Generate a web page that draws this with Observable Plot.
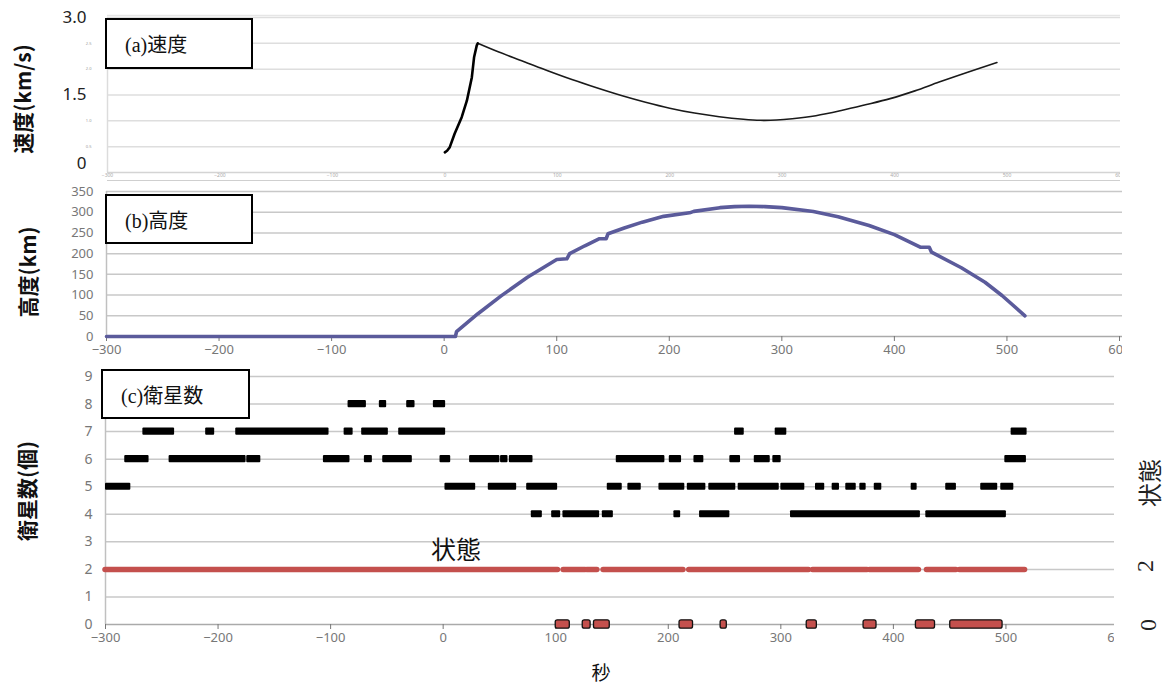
<!DOCTYPE html>
<html><head><meta charset="utf-8">
<script src="https://cdn.jsdelivr.net/npm/d3@7"></script>
<script src="https://cdn.jsdelivr.net/npm/@observablehq/plot@0.6"></script>
<style>
body{margin:0;background:#fff;}
#wrap{position:relative;width:1168px;height:686px;overflow:hidden;background:#fff;font-family:"Noto Sans","Noto Sans CJK JP",sans-serif;}
.panel{position:absolute;left:0;}
.box{position:absolute;border:2px solid #000;background:#fff;box-sizing:border-box;font-family:"Liberation Serif","Noto Sans CJK JP",serif;font-size:20px;padding-left:18px;display:flex;align-items:center;color:#111;}
.lab{position:absolute;transform:translate(-50%,-50%) rotate(-90deg);white-space:nowrap;color:#111;}
.ylab{font-family:"Noto Sans CJK JP",sans-serif;font-weight:bold;font-size:21px;}
.rlab{font-family:"Liberation Serif","Noto Sans CJK JP",serif;font-size:24px;color:#222;}
.txt{position:absolute;transform:translate(-50%,-50%);white-space:nowrap;font-family:"Liberation Serif","Noto Sans CJK JP",serif;color:#111;}
</style>
</head><body>
<div id="wrap">
  <div id="pa" class="panel" style="top:0"></div>
  <div id="pb" class="panel" style="top:182px"></div>
  <div id="pc" class="panel" style="top:365px"></div>
  <div class="box" style="left:105px;top:18px;width:148px;height:51px;">(a)速度</div>
  <div class="box" style="left:105px;top:194px;width:148px;height:50px;">(b)高度</div>
  <div class="box" style="left:101px;top:369px;width:149px;height:50px;">(c)衛星数</div>
  <div class="lab ylab" style="left:22px;top:99px;">速度(km/s)</div>
  <div class="lab ylab" style="left:27px;top:272px;">高度(km)</div>
  <div class="lab ylab" style="left:26px;top:491px;">衛星数(個)</div>
  <div class="lab rlab" style="left:1148px;top:483px;">状態</div>
  <div class="lab rlab" style="left:1145px;top:566px;">2</div>
  <div class="lab rlab" style="left:1148px;top:625px;">0</div>
  <div class="txt" style="left:456px;top:548px;font-size:25px;">状態</div>
  <div class="txt" style="left:601px;top:671px;font-size:19px;">秒</div>
</div>
<script>
// ---- data ----
const xTicks = [-300, -200, -100, 0, 100, 200, 300, 400, 500, 600];

// (a) speed km/s
const velT = [0, 2, 4.4, 8.7, 15, 19.6, 24, 26, 28.4, 29.3, 48, 70, 91.5, 113, 135, 157, 178.5, 200, 222, 244, 265.5, 280.6, 295, 309, 330, 352.6, 374, 396, 418, 439.6, 465, 491];
const velV = [0.39, 0.42, 0.49, 0.75, 1.07, 1.39, 1.84, 2.23, 2.46, 2.50, 2.33, 2.15, 1.97, 1.80, 1.64, 1.49, 1.36, 1.245, 1.15, 1.08, 1.03, 1.01, 1.015, 1.04, 1.10, 1.20, 1.31, 1.43, 1.58, 1.75, 1.94, 2.13];

// (b) altitude km
const altT = [-300, 10, 11, 30, 50.6, 74, 100, 109, 111.5, 125, 138, 143.9, 145.6, 160, 176, 195, 218, 221.8, 245, 258, 271, 285, 300, 328, 350, 377.5, 400, 423, 431, 433, 459.5, 480.5, 495.6, 516];
const altH = [0, 0, 12, 55, 98, 143, 186, 187.5, 200, 219, 236, 236, 248, 262, 276, 290, 298.5, 302, 311, 313.5, 314.5, 313.5, 311, 301.7, 289, 268, 246, 215.5, 215.5, 203.5, 166, 131, 99, 50];

// (c) satellites: [start, end] intervals per count
const sat8 = [[-84.5,-68.2],[-56.7,-50.2],[-32.4,-25],[-8.7,2.2]];
const sat7 = [[-266.8,-238.6],[-211,-203],[-184.3,-101.4],[-88,-80],[-72.4,-48.7],[-39.5,2.2],[258.9,267.5],[295,305.3],[504.6,518.8]];
const sat6 = [[-282.9,-261.3],[-243.5,-175.1],[-174.5,-162],[-106.4,-82.8],[-70,-62.9],[-53.7,-27.4],[-2.8,6.7],[23.5,50.4],[51,57.6],[58.8,79.8],[153.8,197],[200.9,211.8],[222.8,231.6],[254.7,264.2],[276.4,290.6],[292.9,300.3],[499,518.2]];
const sat5 = [[-300,-277.5],[1.6,28.9],[40.1,65.3],[74.2,101.7],[145.8,159.1],[164.1,176],[191.7,214.7],[216.9,233.4],[236,260],[262.1,298.6],[300,321.3],[330.8,339],[345.6,352.1],[357.7,367],[370.2,375.8],[383,389.7],[415.8,421.1],[446.5,456],[477.6,492.7],[495.4,507]];
const sat4 = [[78.3,88.1],[96.4,104.4],[106.4,139],[141.4,151.2],[205,211],[227.8,254.7],[308.6,424],[428.8,500.4]];

// (c) state: intervals with state 2 and state 0
const state2 = [[-300,102],[107,126.5],[128,137],[142.5,213.5],[218.6,325],[328.6,377],[379,422.7],[429.8,456],[459,517]];
const state0 = [[100,112.5],[124,131],[134,148],[210,222],[246.5,252],[323,332],[373.5,385],[420,437],[450.5,497]];

// ---- build ----
const vel = velT.map((t, i) => ({t, v: velV[i]}));
const alt = altT.map((t, i) => ({t, h: altH[i]}));
const sats = [[8, sat8], [7, sat7], [6, sat6], [5, sat5], [4, sat4]]
  .flatMap(([n, arr]) => arr.map(([a, b]) => ({x1: a, x2: b, n})));
const st2 = state2.map(([a, b]) => ({x1: a, x2: b, s: 2}));
const st0 = state0.map(([a, b]) => ({x1: a, x2: b, s: 0}));

const baseStyle = {fontFamily: "Noto Sans, sans-serif", background: "transparent", overflow: "hidden"};

const chartA = Plot.plot({
  width: 1120, height: 182, marginTop: 17, marginBottom: 10, marginLeft: 107, marginRight: 0,
  x: {domain: [-300, 600], range: [107, 1119]},
  y: {domain: [0, 3]},
  style: baseStyle,
  marks: [
    Plot.gridY([0.5, 1, 1.5, 2, 2.5, 3], {stroke: "#dedede", strokeOpacity: 1, strokeWidth: 1.5}),
    Plot.ruleY([3], {stroke: "#e6e6e6", strokeWidth: 1.5, dy: -2}),
    Plot.ruleX([-300], {stroke: "#dcdcdc", strokeWidth: 1.5}),
    Plot.ruleY([0], {stroke: "#d4d4d4", strokeWidth: 1.5}),
    Plot.ruleY([0], {stroke: "#cfcfcf", strokeWidth: 1.2, dy: 8}),
    Plot.axisX(xTicks, {tickSize: 0, tickPadding: 1, fontSize: 5, color: "#aaa", label: null}),
    Plot.axisY([1.5, 3], {tickSize: 0, tickPadding: 21, fontSize: 17, color: "#222", tickFormat: d => d.toFixed(1), label: null}),
    Plot.axisY([0], {tickSize: 0, tickPadding: 21, fontSize: 17, color: "#222", tickFormat: d => "0", dy: -9, label: null}),
    Plot.axisY([0.5, 1, 2, 2.5], {tickSize: 0, tickPadding: 16, fontSize: 4, color: "#999", label: null}),
    Plot.line(vel.filter(d => d.t >= 29.3), {x: "t", y: "v", stroke: "#1a1a1a", strokeWidth: 1.6, curve: "catmull-rom"}),
    Plot.line(vel.filter(d => d.t <= 29.3), {x: "t", y: "v", stroke: "#000", strokeWidth: 2.6, strokeLinejoin: "round"})
  ]
});
document.getElementById("pa").append(chartA);

const chartB = Plot.plot({
  width: 1122, height: 183, marginTop: 9, marginBottom: 29, marginLeft: 106, marginRight: 0,
  x: {domain: [-300, 600], range: [106, 1119]},
  y: {domain: [0, 350]},
  style: baseStyle,
  marks: [
    Plot.gridY([50, 100, 150, 200, 250, 300, 350], {stroke: "#c8c8c8", strokeOpacity: 1, strokeWidth: 1.5}),
    Plot.ruleX([-300], {stroke: "#c0c0c0", strokeWidth: 1.5}),
    Plot.ruleY([0], {stroke: "#aaa", strokeWidth: 1.5}),
    Plot.axisX(xTicks, {tickSize: 5, tickPadding: 3, fontSize: 13, color: "#777", label: null}),
    Plot.axisY([0, 50, 100, 150, 200, 250, 300, 350], {tickSize: 0, tickPadding: 13, fontSize: 13, color: "#777", label: null}),
    Plot.line(alt, {x: "t", y: "h", stroke: "#5b5b9b", strokeWidth: 3.6, strokeLinejoin: "round"})
  ]
});
document.getElementById("pb").append(chartB);

const chartC = Plot.plot({
  width: 1114, height: 321, marginTop: 11, marginBottom: 62, marginLeft: 105, marginRight: 0,
  x: {domain: [-300, 600], range: [105, 1118]},
  y: {domain: [0, 9]},
  style: baseStyle,
  marks: [
    Plot.gridY([1, 2, 3, 4, 5, 6, 7, 8, 9], {stroke: "#c8c8c8", strokeOpacity: 1, strokeWidth: 1.5}),
    Plot.ruleX([-300], {stroke: "#c0c0c0", strokeWidth: 1.5}),
    Plot.ruleY([0], {stroke: "#aaa", strokeWidth: 1.5}),
    Plot.axisX(xTicks, {tickSize: 5, tickPadding: 3, fontSize: 13, color: "#777", label: null}),
    Plot.axisY([0, 1, 2, 3, 4, 5, 6, 7, 8, 9], {tickSize: 0, tickPadding: 13, fontSize: 14, color: "#777", label: null}),
    Plot.rect(sats, {x1: "x1", x2: "x2", y1: d => d.n - 0.13, y2: d => d.n + 0.13, fill: "#000", rx: 1}),
    Plot.ruleY(st2, {x1: "x1", x2: "x2", y: "s", stroke: "#c4504d", strokeWidth: 5.5, strokeLinecap: "round"}),
    Plot.rect(st0, {x1: "x1", x2: "x2", y1: d => d.s - 0.15, y2: d => d.s + 0.15, fill: "#c4504d", stroke: "#111", strokeWidth: 1.3, rx: 2})
  ]
});
document.getElementById("pc").append(chartC);
</script>
</body></html>
